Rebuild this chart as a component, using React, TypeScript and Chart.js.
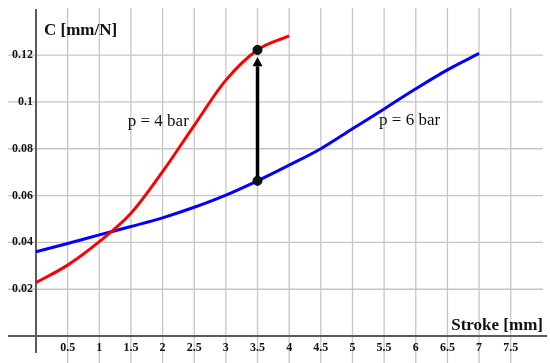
import { useEffect, useRef } from 'react';
import { Chart, registerables } from 'chart.js';

Chart.register(...registerables);

// p = 4 bar curve
const redStroke = [0, 0.5, 1, 1.5, 2, 2.5, 3, 3.5, 4];
const redC = [0.0228, 0.0303, 0.0403, 0.0524, 0.0702, 0.09, 0.1093, 0.1222, 0.1282];

// p = 6 bar curve
const blueStroke = [0, 0.5, 1, 1.5, 2, 2.5, 3, 3.5, 4, 4.5, 5, 5.5, 6, 6.5, 7];
const blueC = [0.036, 0.0395, 0.0432, 0.0468, 0.0505, 0.055, 0.0602, 0.0663, 0.073, 0.08, 0.0885, 0.097, 0.1056, 0.1137, 0.1207];

// marked points and arrow
const markerStroke = [3.5, 3.5];
const markerC = [0.0663, 0.1222];
const arrowStroke = [3.5, 3.5];
const arrowC = [0.0663, 0.1152];
const arrowTipC = 0.1192;

const xGridValues = [0.5, 1, 1.5, 2, 2.5, 3, 3.5, 4, 4.5, 5, 5.5, 6, 6.5, 7, 7.5];
const yGridValues = [0.02, 0.04, 0.06, 0.08, 0.1, 0.12];
const xTickLabels = ['0.5', '1', '1.5', '2', '2.5', '3', '3.5', '4', '4.5', '5', '5.5', '6', '6.5', '7', '7.5'];
const yTickLabels = ['0.02', '0.04', '0.06', '0.08', '0.1', '0.12'];

const curveLabels = ['p = 4 bar', 'p = 6 bar'];
const curveLabelStroke = [1.45, 5.42];
const curveLabelC = [0.0897, 0.0901];

const X_MIN = -0.442;
const X_MAX = 8.01;
const Y_MIN = -0.0115;
const Y_MAX = 0.1401;

const SERIF = '"Liberation Serif", "DejaVu Serif", serif';

const toXY = (xs: number[], ys: number[]) => xs.map((x, i) => ({ x, y: ys[i] }));

const overlay = {
  id: 'overlay',
  beforeDatasetsDraw(chart: any) {
    const { ctx, scales, chartArea } = chart;
    const xs = scales.x;
    const ys = scales.y;
    const x0 = xs.getPixelForValue(0);
    const y0 = ys.getPixelForValue(0);
    ctx.save();
    // grid
    ctx.strokeStyle = '#c6c6c6';
    ctx.lineWidth = 1.3;
    ctx.beginPath();
    xGridValues.forEach((v) => {
      const p = xs.getPixelForValue(v);
      ctx.moveTo(p, chartArea.top);
      ctx.lineTo(p, chartArea.bottom);
    });
    yGridValues.forEach((v) => {
      const p = ys.getPixelForValue(v);
      ctx.moveTo(chartArea.left, p);
      ctx.lineTo(chartArea.right, p);
    });
    ctx.stroke();

    // axes
    ctx.strokeStyle = '#5a5a5a';
    ctx.lineWidth = 2;
    ctx.beginPath();
    ctx.moveTo(chartArea.left, y0);
    ctx.lineTo(chartArea.right + 4, y0);
    ctx.moveTo(x0, chartArea.top + 1);
    ctx.lineTo(x0, y0 + 17);
    ctx.stroke();

    // tick labels
    ctx.fillStyle = '#111';
    ctx.font = `bold 12px ${SERIF}`;
    ctx.textAlign = 'center';
    ctx.textBaseline = 'middle';
    xTickLabels.forEach((t, i) => {
      ctx.fillText(t, xs.getPixelForValue(xGridValues[i]), y0 + 12);
    });
    ctx.textAlign = 'right';
    yTickLabels.forEach((t, i) => {
      ctx.fillText(t, x0 - 3, ys.getPixelForValue(yGridValues[i]));
    });

    // axis titles
    ctx.font = `bold 17px ${SERIF}`;
    ctx.textAlign = 'left';
    ctx.textBaseline = 'alphabetic';
    ctx.fillText('C [mm/N]', x0 + 8, chartArea.top + 27);
    ctx.textAlign = 'right';
    ctx.fillText('Stroke [mm]', chartArea.right, y0 - 6);

    // curve labels
    ctx.font = `17px ${SERIF}`;
    ctx.textAlign = 'left';
    curveLabels.forEach((t, i) => {
      ctx.fillText(t, xs.getPixelForValue(curveLabelStroke[i]), ys.getPixelForValue(curveLabelC[i]));
    });
    ctx.restore();
  },
  afterDatasetDraw(chart: any, args: any) {
    if (args.index !== 2) return;
    const { ctx, scales } = chart;
    const px = scales.x.getPixelForValue(arrowStroke[1]);
    const base = scales.y.getPixelForValue(arrowC[1]);
    const tip = scales.y.getPixelForValue(arrowTipC);
    ctx.save();
    ctx.fillStyle = '#000';
    ctx.beginPath();
    ctx.moveTo(px, tip);
    ctx.lineTo(px - 5, base);
    ctx.lineTo(px + 5, base);
    ctx.closePath();
    ctx.fill();
    ctx.restore();
  },
};

export default function App() {
  const ref = useRef<HTMLCanvasElement>(null);
  useEffect(() => {
    if (!ref.current) return;
    const chart = new Chart(ref.current, {
      type: 'scatter',
      data: {
        datasets: [
          {
            label: 'p = 4 bar',
            data: toXY(redStroke, redC),
            showLine: true,
            borderColor: '#ff0000',
            borderWidth: 3,
            pointRadius: 0,
            cubicInterpolationMode: 'monotone',
            order: 3,
          },
          {
            label: 'p = 6 bar',
            data: toXY(blueStroke, blueC),
            showLine: true,
            borderColor: '#0000ff',
            borderWidth: 3,
            pointRadius: 0,
            cubicInterpolationMode: 'monotone',
            order: 3,
          },
          {
            label: 'arrow',
            data: toXY(arrowStroke, arrowC),
            showLine: true,
            borderColor: '#000',
            borderWidth: 3.5,
            pointRadius: 0,
            order: 2,
          },
          {
            label: 'points',
            data: toXY(markerStroke, markerC),
            showLine: false,
            pointRadius: 4.5,
            pointBackgroundColor: '#0b1220',
            pointBorderColor: '#000',
            pointBorderWidth: 1,
            order: 1,
          },
        ],
      },
      options: {
        animation: false,
        responsive: false,
        devicePixelRatio: 1,
        layout: { autoPadding: false, padding: { left: 8, right: 7, top: 8, bottom: 0 } },
        plugins: { legend: { display: false }, tooltip: { enabled: false } },
        scales: {
          x: { type: 'linear', display: false, min: X_MIN, max: X_MAX },
          y: { type: 'linear', display: false, min: Y_MIN, max: Y_MAX },
        },
      },
      plugins: [overlay],
    } as any);
    return () => chart.destroy();
  }, []);
  return (
    <canvas
      ref={ref}
      width={550}
      height={363}
      style={{ position: 'fixed', left: 0, top: 0, width: 550, height: 363, background: '#fff' }}
    />
  );
}
